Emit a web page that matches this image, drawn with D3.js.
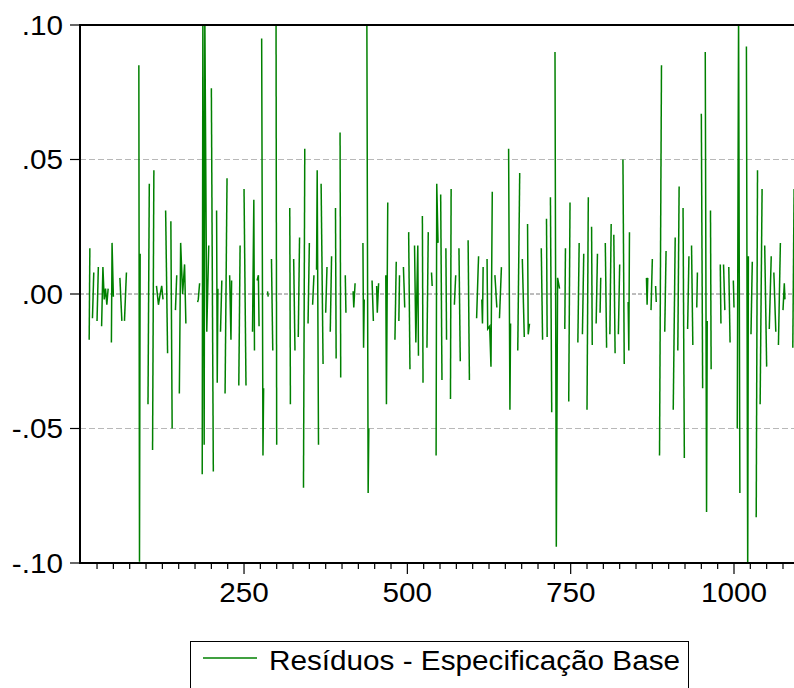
<!DOCTYPE html>
<html>
<head>
<meta charset="utf-8">
<script src="https://cdn.jsdelivr.net/npm/d3@7"></script>
<style>
  body { margin: 0; background: #fff; }
  svg { display: block; }
  text { font-family: "Liberation Sans", Arial, sans-serif; fill: #000; }
</style>
</head>
<body>
<svg id="chart" width="794" height="688"></svg>
<script>
// observation number of each plotted residual (gaps in obs = breaks in the line)
const obs = [
  13,14,18,20,25,27,32,34,36,38,40,42,47,48,50,
  60,63,67,70,
  89,90,91,
  103,105,110,112,116,119,121,124,126,130,133,138,140,145,147,151,153,156,159,161,
  179,180,182,186,187,189,190,193,196,200,203,208,209,210,214,216,221,224,228,230,231,
  242,244,250,253,
  263,265,266,270,272,273,277,279,280,286,287,292,294,299,300,
  320,321,326,328,333,335,341,343,348,350,355,357,361,362,364,368,371,375,377,382,384,390,391,397,398,405,406,
  417,418,420,
  432,433,434,438,440,441,446,448,453,454,456,
  467,468,470,
  481,483,487,488,494,496,502,504,511,513,516,517,523,524,530,532,537,538,544,545,547,551,553,559,560,566,567,572,574,579,581,
  593,595,
  606,609,614,615,616,622,623,626,628,630,634,637,641,644,
  655,657,658,
  669,672,676,679,684,685,687,
  705,707,713,714,719,721,726,728,730,733,
  741,742,747,749,
  761,763,768,770,775,777,782,783,789,791,795,796,
  803,805,810,812,816,818,823,825,830,832,838,839,840,
  866,867,868,873,875,880,881,886,889,894,896,
  907,910,914,916,922,924,929,931,935,937,943,944,950,952,956,958,959,964,965,
  979,980,984,986,992,994,999,1000,1005,1007,1009,
  1019,1021,1022,1026,1028,1034,1036,1040,1043,1047,1050,1054,1057,1061,1064,1068,1071,1075,1077,1078,
  1090,1092
];

const resid = [
  -.017,.017,-.009,.008,-.010,.010,-.012,.010,-.002,.002,-.004,.002,-.018,.019,-.001,
  .006,-.010,-.010,.008,
  .085,-.0995,.015,
  -.041,.041,-.058,.046,.003,-.004,-.001,.003,-.002,.031,-.022,.027,-.050,-.006,.007,-.037,.019,.000,.011,-.011,
  -.003,-.002,.004,-.067,.104,-.056,.104,-.014,.018,.0765,-.066,.031,-.033,.002,-.014,.005,-.037,.043,.007,-.017,.005,
  -.034,.018,.039,-.034,
  -.014,.035,-.021,.005,.007,-.012,.095,-.060,-.035,.001,-.001,.013,-.021,.104,-.056,
  .032,-.041,.013,-.021,-.016,.021,-.072,.054,-.011,.019,-.004,.007,.009,.046,-.056,.041,-.026,-.007,.010,-.014,.014,.032,-.024,.060,-.031,.007,-.007,
  .001,-.005,.004,
  .019,-.020,-.002,.104,-.074,-.050,.005,-.010,.003,-.007,.004,
  .007,-.041,.034,
  -.017,.012,-.010,.007,.010,-.005,.023,-.028,.018,-.018,.018,-.023,.029,-.033,-.020,.023,.008,.003,-.060,.041,.019,.037,-.032,.017,-.017,-.039,.039,-.004,.007,.017,-.025,
  .020,-.032,
  -.009,.014,-.002,-.011,.010,.013,-.013,-.012,-.027,.038,.007,-.005,-.009,.010,
  .054,-.043,-.011,
  -.021,.045,.013,-.016,.026,-.015,-.011,
  .017,-.017,.028,-.016,.036,-.044,.090,-.094,.006,.002,
  -.013,.017,-.040,.034,
  -.018,.019,-.015,.015,-.043,.036,.025,-.019,-.011,.015,-.007,.006,
  .019,-.020,-.015,.026,.022,-.022,-.015,.011,.050,-.026,-.003,-.021,.023,
  .006,-.004,.006,-.006,.013,.003,-.003,-.060,.085,-.014,.016,
  -.043,.021,-.021,.040,.032,-.061,-.013,.014,.018,-.019,-.005,.008,.067,-.035,.090,-.081,-.010,.031,-.028,
  .011,-.011,.011,-.006,.010,-.018,.005,-.005,-.050,.104,-.074,
  .092,-.104,.014,-.015,.012,-.083,.046,-.041,.039,.018,-.027,-.013,.014,.008,-.014,-.019,.019,-.006,.004,-.002,
  -.020,.039
];

const yTicks = [0.10, 0.05, 0, -0.05, -0.10];
const yTickLabels = ['.10', '.05', '.00', '-.05', '-.10'];
const xTicks = [250, 500, 750, 1000];
const seriesName = 'Resíduos - Especificação Base';

const svg = d3.select('#chart');
const plotLeft = 80, plotTop = 25, plotBottom = 563, plotRight = 800;
const textStretch = 1.1;   // the original graph is a bit wider than its fonts
const lineColor = '#008000';
const maxGap = 3;          // more than this many obs apart = missing values, line breaks

const x = d3.scaleLinear().domain([0, 1100]).range([80.7, 80.7 + 1100 * 0.6533]);
const y = d3.scaleLinear().domain([-0.1, 0.1]).range([plotBottom, plotTop]);

function stretch(sel) {
  sel.each(function () {
    let len = this.getComputedTextLength();
    d3.select(this).attr('textLength', len * textStretch).attr('lengthAdjust', 'spacingAndGlyphs');
  });
}

// grid lines
svg.selectAll('line.grid')
  .data(yTicks.filter(d => Math.abs(d) > 1e-9 && Math.abs(d) < 0.1))
  .join('line')
  .attr('x1', plotLeft).attr('x2', plotRight)
  .attr('y1', d => y(d)).attr('y2', d => y(d))
  .attr('stroke', '#b8b8b8').attr('stroke-width', 1)
  .attr('stroke-dasharray', '6,3');

svg.append('line')
  .attr('x1', plotLeft).attr('x2', plotRight)
  .attr('y1', y(0)).attr('y2', y(0))
  .attr('stroke', '#7a7a7a').attr('stroke-width', 1)
  .attr('stroke-dasharray', '4,2');

// split the series where observations are missing
let segments = [];
let cur = [];
obs.forEach((o, i) => {
  if (cur.length && o - cur[cur.length - 1][0] > maxGap) {
    segments.push(cur);
    cur = [];
  }
  cur.push([o, resid[i]]);
});
if (cur.length) segments.push(cur);

svg.append('clipPath').attr('id', 'plot-clip')
  .append('rect')
  .attr('x', plotLeft).attr('y', plotTop)
  .attr('width', plotRight - plotLeft).attr('height', plotBottom - plotTop);

const line = d3.line().x(d => x(d[0])).y(d => y(d[1]));

svg.append('g').attr('clip-path', 'url(#plot-clip)')
  .selectAll('path')
  .data(segments)
  .join('path')
  .attr('d', line)
  .attr('fill', 'none')
  .attr('stroke', lineColor)
  .attr('stroke-width', 1.5);

// frame
const frame = svg.append('g').attr('stroke', '#000').attr('stroke-width', 2);
frame.append('line').attr('x1', plotLeft).attr('x2', plotLeft).attr('y1', plotTop - 1).attr('y2', plotBottom + 1);
frame.append('line').attr('x1', plotLeft).attr('x2', plotRight).attr('y1', plotTop).attr('y2', plotTop);
frame.append('line').attr('x1', plotLeft).attr('x2', plotRight).attr('y1', plotBottom).attr('y2', plotBottom);

// y axis ticks + labels
svg.selectAll('line.ytick')
  .data(yTicks)
  .join('line')
  .attr('x1', plotLeft - 10).attr('x2', plotLeft)
  .attr('y1', d => y(d)).attr('y2', d => y(d))
  .attr('stroke', '#000').attr('stroke-width', 1.2);

svg.selectAll('text.ylab')
  .data(yTicks)
  .join('text')
  .attr('x', 63)
  .attr('y', d => y(d) + 9.5)
  .attr('text-anchor', 'end')
  .attr('font-size', 27)
  .text((d, i) => yTickLabels[i])
  .call(stretch);

// x axis ticks + labels
const minor = d3.range(25, 1100, 25).filter(d => xTicks.indexOf(d) < 0);
svg.selectAll('line.xminor')
  .data(minor)
  .join('line')
  .attr('x1', d => x(d)).attr('x2', d => x(d))
  .attr('y1', plotBottom).attr('y2', plotBottom + 6)
  .attr('stroke', '#000').attr('stroke-width', 1.2);

svg.selectAll('line.xmajor')
  .data(xTicks)
  .join('line')
  .attr('x1', d => x(d)).attr('x2', d => x(d))
  .attr('y1', plotBottom).attr('y2', plotBottom + 11)
  .attr('stroke', '#000').attr('stroke-width', 1.2);

svg.selectAll('text.xlab')
  .data(xTicks)
  .join('text')
  .attr('x', d => x(d))
  .attr('y', 602)
  .attr('text-anchor', 'middle')
  .attr('font-size', 27)
  .text(d => d)
  .call(stretch);

// legend
const legend = svg.append('g');
legend.append('rect')
  .attr('x', 190.5).attr('y', 641.5)
  .attr('width', 498).attr('height', 60)
  .attr('fill', '#fff').attr('stroke', '#000').attr('stroke-width', 1);
legend.append('line')
  .attr('x1', 203).attr('x2', 257)
  .attr('y1', 658).attr('y2', 658)
  .attr('stroke', lineColor).attr('stroke-width', 1.5);
legend.append('text')
  .attr('x', 269).attr('y', 670)
  .attr('font-size', 27)
  .text(seriesName)
  .call(stretch);
</script>
</body>
</html>
